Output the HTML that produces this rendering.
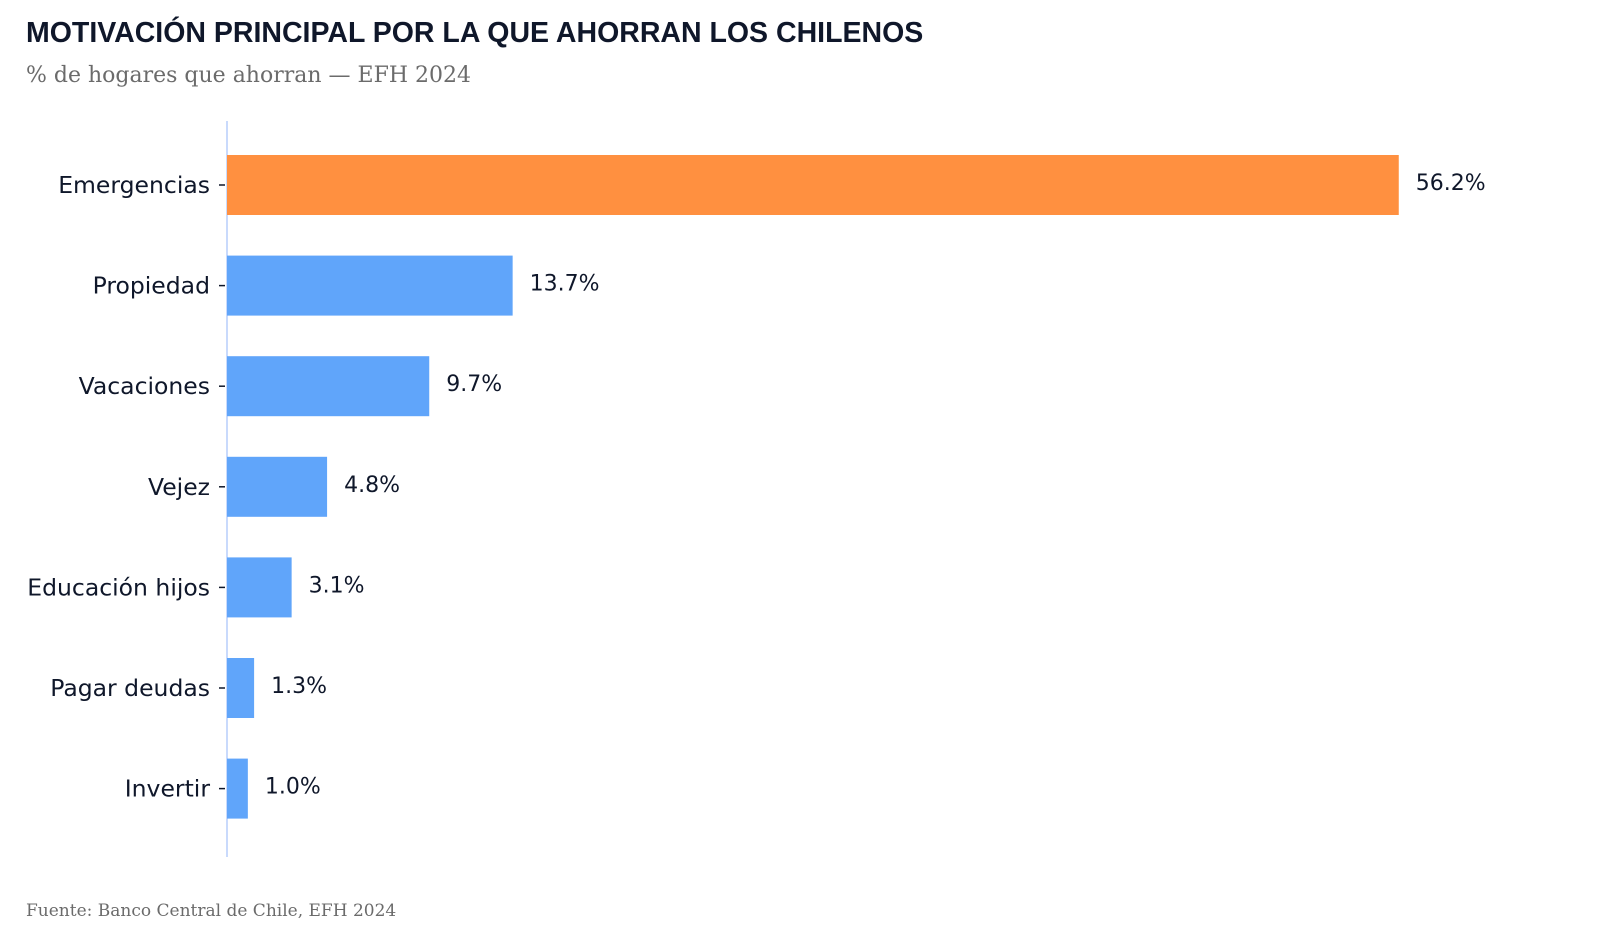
<!DOCTYPE html>
<html><head><meta charset="utf-8"><style>
html,body{margin:0;padding:0;background:#fff;width:1600px;height:936px;overflow:hidden}
svg{display:block}
</style></head><body>
<svg id="chart" width="1600" height="936" viewBox="0 0 1600 936">
<text x="26" y="42" font-family="Liberation Sans, sans-serif" font-weight="bold" font-size="28.5" fill="#0f172a">MOTIVACIÓN PRINCIPAL POR LA QUE AHORRAN LOS CHILENOS</text>
<text x="26" y="82" font-family="DejaVu Serif, serif" font-size="22" fill="#6b6b6b">% de hogares que ahorran — EFH 2024</text>
<line x1="227" y1="121" x2="227" y2="857" stroke="#c9dafc" stroke-width="2"/>
<g id="bars"></g>
<text x="26" y="916" font-family="DejaVu Serif, serif" font-size="17" fill="#6b6b6b">Fuente: Banco Central de Chile, EFH 2024</text>
</svg>
<script>
const categories = ["Emergencias","Propiedad","Vacaciones","Vejez","Educación hijos","Pagar deudas","Invertir"];
const values = [56.2,13.7,9.7,4.8,3.1,1.3,1.0];
const valueLabels = ["56.2%","13.7%","9.7%","4.8%","3.1%","1.3%","1.0%"];
const highlight = [true,false,false,false,false,false,false];

const x0 = 227, pxPer = 20.85;
function xScale(v){ return x0 + v * pxPer; }
function yCenter(i){ return 185 + i * 100.6; }
const barH = 60;
const ns = "http://www.w3.org/2000/svg";
const g = document.getElementById('bars');
categories.forEach((c,i)=>{
  const yc = yCenter(i);
  const r = document.createElementNS(ns,'rect');
  r.setAttribute('x', x0);
  r.setAttribute('y', yc - barH/2);
  r.setAttribute('width', xScale(values[i]) - x0);
  r.setAttribute('height', barH);
  r.setAttribute('fill', highlight[i] ? '#ff9040' : '#60a5fa');
  
  
  g.appendChild(r);
  const tk = document.createElementNS(ns,'line');
  tk.setAttribute('x1', 219); tk.setAttribute('x2', 225);
  tk.setAttribute('y1', yc); tk.setAttribute('y2', yc);
  tk.setAttribute('stroke', '#0f172a'); tk.setAttribute('stroke-width', '1.5');
  
  
  g.appendChild(tk);
  const t = document.createElementNS(ns,'text');
  t.setAttribute('x', 210); t.setAttribute('y', yc + 8);
  t.setAttribute('text-anchor', 'end');
  t.setAttribute('font-family', 'DejaVu Sans, sans-serif');
  t.setAttribute('font-size', '23.5'); t.setAttribute('fill', '#0f172a');
  t.textContent = c;
  
  
  g.appendChild(t);
  const v = document.createElementNS(ns,'text');
  v.setAttribute('x', xScale(values[i]) + 17); v.setAttribute('y', yc + 5);
  v.setAttribute('font-family', 'DejaVu Sans, sans-serif');
  v.setAttribute('font-size', '22'); v.setAttribute('fill', '#0f172a');
  v.textContent = valueLabels[i];
  
  
  g.appendChild(v);
});
</script>
</body></html>
